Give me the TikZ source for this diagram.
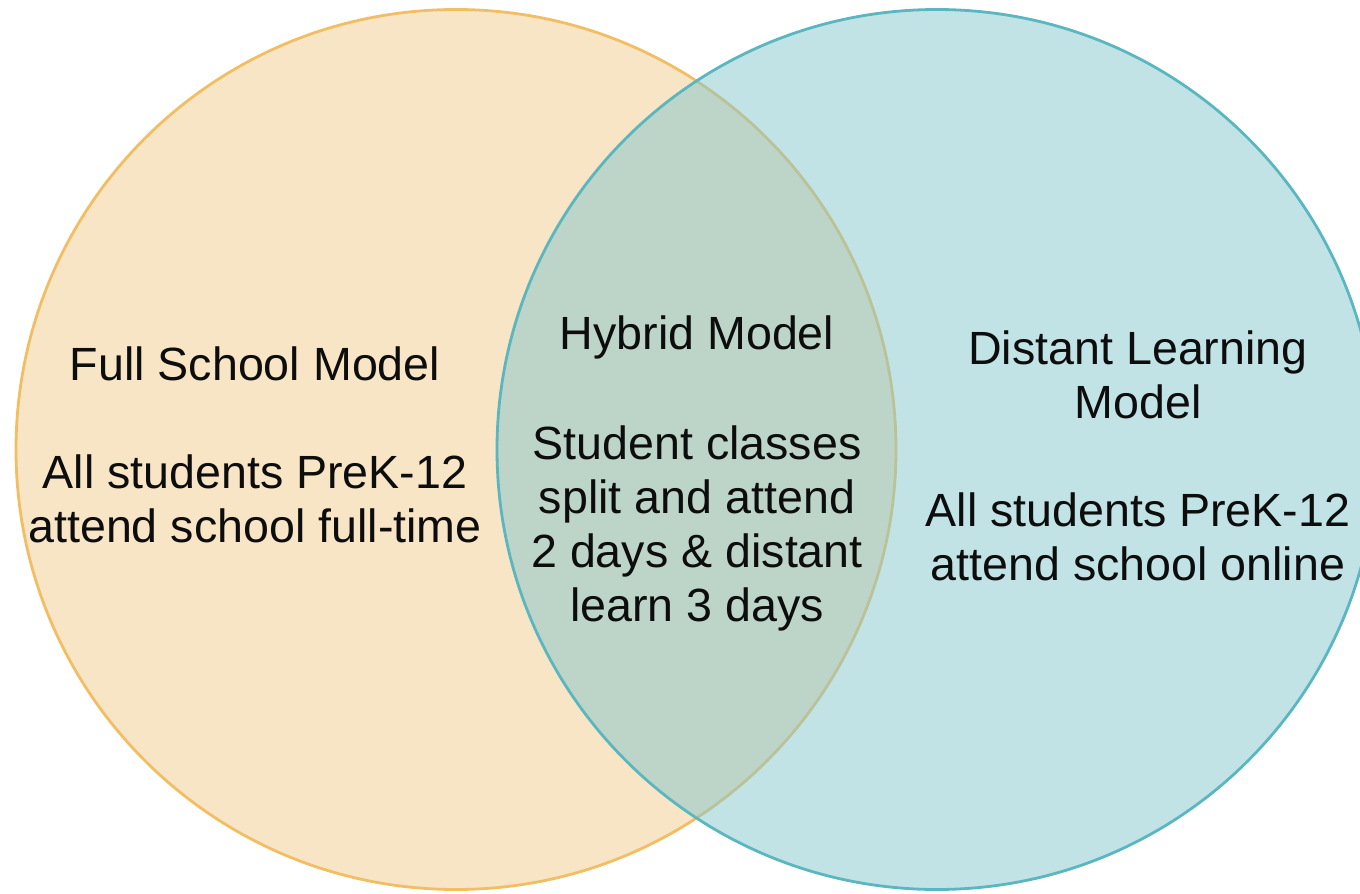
\documentclass[tikz,border=0pt]{standalone}
\usepackage{fontspec}
\setmainfont{Liberation Sans}
\definecolor{fullfill}{HTML}{F8E5C5}
\definecolor{fullline}{HTML}{F2BE63}
\definecolor{distfill}{HTML}{83C7CD}
\definecolor{distline}{HTML}{5AB6BF}
\begin{document}
\begin{tikzpicture}[x=0.5pt, y=-0.5pt,
  every node/.style={align=center, font=\fontsize{23.3}{27}\selectfont, text=black!95}]

\clip (0,0) rectangle (1360,894);

\draw[fullline, line width=1.4pt, fill=fullfill] (456,449.5) circle (440);
\draw[distline, line width=1.4pt, fill=distfill, fill opacity=0.5] (937,449.5) circle (440);

\node (full) at (255,445) {Full School Model\\[27pt]All students PreK-12\\attend school full-time};
\node (hybrid) at (697,473) {Hybrid Model\\[28pt]Student classes\\split and attend\\2 days \& distant\\learn 3 days};
\node (distant) at (1138,456) {Distant Learning\\Model\\[27pt]All students PreK-12\\attend school online};
\end{tikzpicture}
\end{document}
